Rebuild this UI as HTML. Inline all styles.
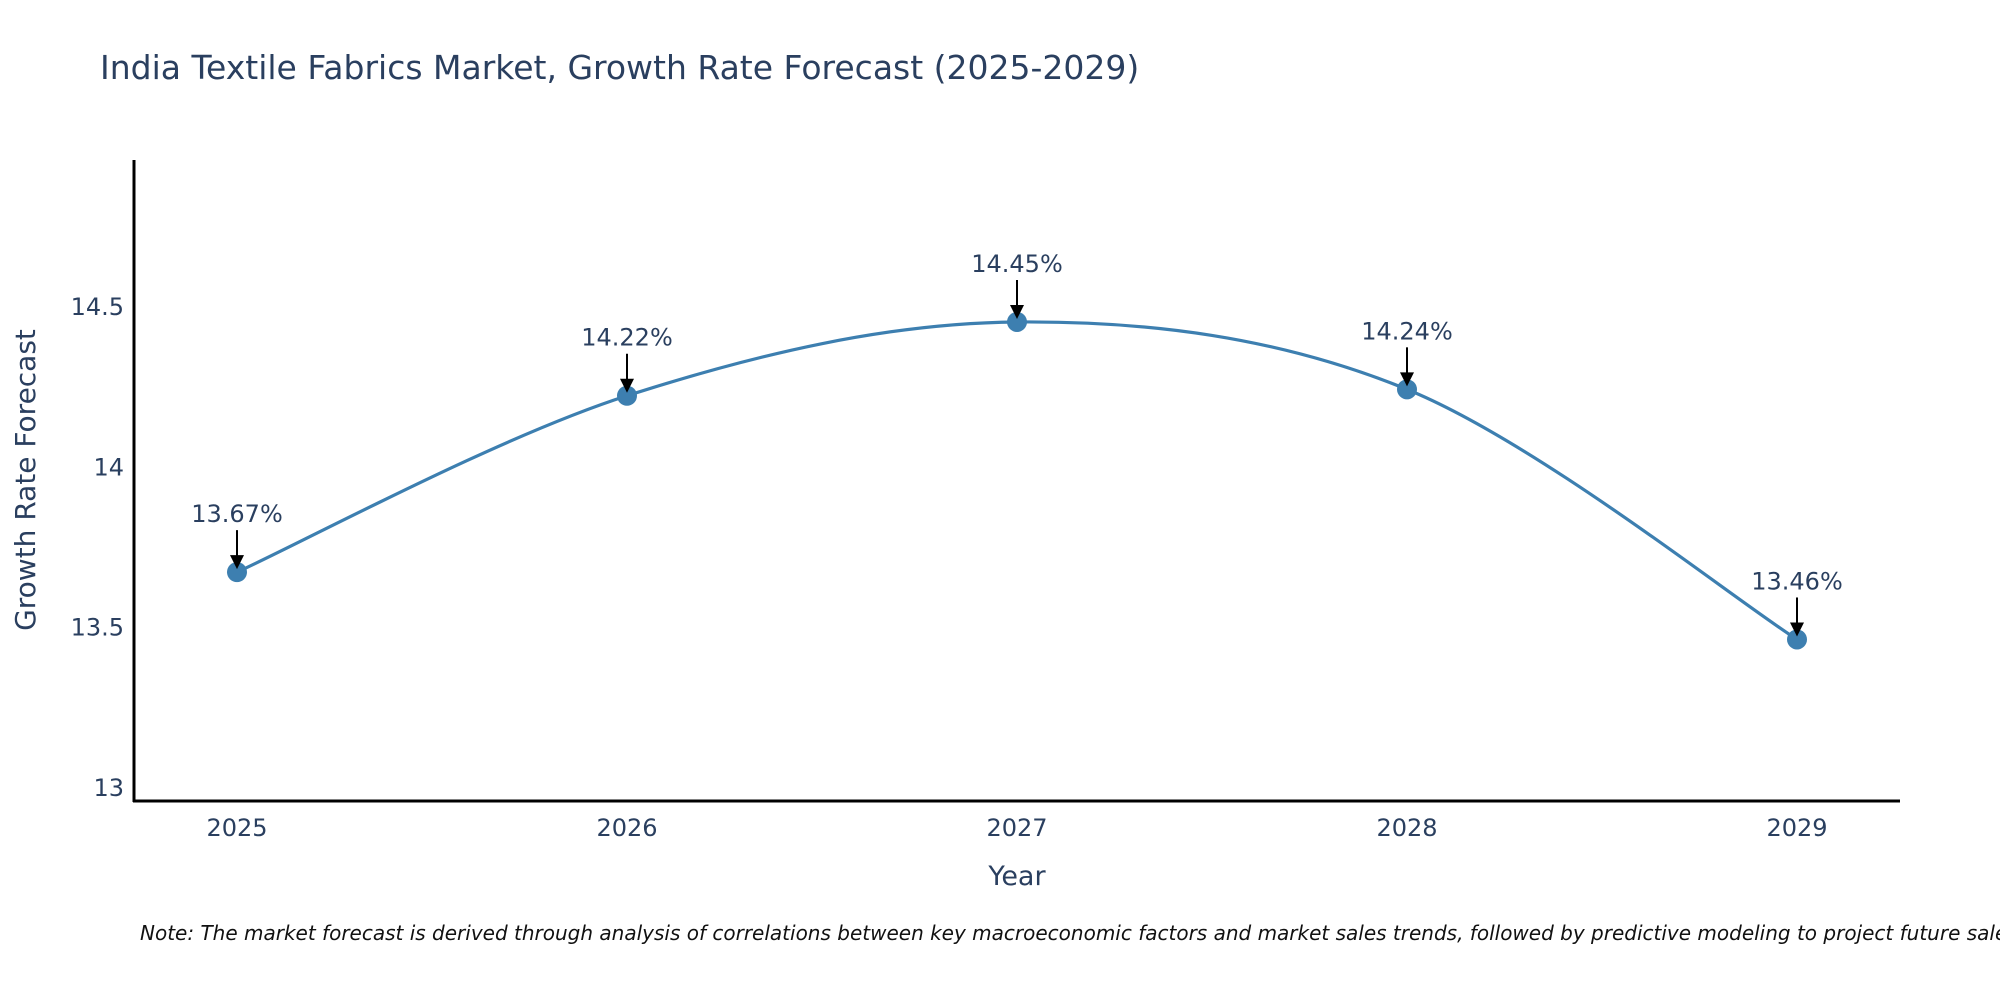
<!DOCTYPE html>
<html><head><meta charset="utf-8"><style>
html,body{margin:0;padding:0;background:#fff;overflow:hidden;}
svg text{font-family:"DejaVu Sans","Liberation Sans",sans-serif;}
</style></head><body>
<svg id="chart" width="2000" height="1000" xmlns="http://www.w3.org/2000/svg">
<rect width="2000" height="1000" fill="#fff"/>
<text x="100" y="79" font-size="33" fill="#2a3f5f">India Textile Fabrics Market, Growth Rate Forecast (2025-2029)</text>
<g id="plot"></g>
<text transform="translate(35,480) rotate(-90)" text-anchor="middle" font-size="28" fill="#2a3f5f">Growth Rate Forecast</text>
<text x="1017" y="885" text-anchor="middle" font-size="27" fill="#2a3f5f">Year</text>
<text x="140" y="940" font-size="20" font-style="italic" fill="#111">Note: The market forecast is derived through analysis of correlations between key macroeconomic factors and market sales trends, followed by predictive modeling to project future sales.</text>
</svg>
<script>
const years = [2025, 2026, 2027, 2028, 2029];
const values = [13.67, 14.22, 14.45, 14.24, 13.46];
const labels = ["13.67%", "14.22%", "14.45%", "14.24%", "13.46%"];
const yTicks = [13, 13.5, 14, 14.5];
const yTickLabels = ["13", "13.5", "14", "14.5"];

const NS = "http://www.w3.org/2000/svg";
const g = document.getElementById("plot");
function xS(v){ return 237 + (v - 2025) * 390; }
function yS(v){ return 787 - (v - 13) * 320.7; }
function mk(tag, attrs){ const e = document.createElementNS(NS, tag); for (const k in attrs) e.setAttribute(k, attrs[k]); g.appendChild(e); return e; }

let yAxis = mk("line", {x1:134, y1:160, x2:134, y2:802, stroke:"#000", "stroke-width":3});


let xAxis = mk("line", {x1:133, y1:801, x2:1900, y2:801, stroke:"#000", "stroke-width":3});



yTicks.forEach((t, i) => {
  const tx = mk("text", {x:124, y:yS(t) + 9, "text-anchor":"end", "font-size":24, fill:"#2a3f5f"});
  tx.textContent = yTickLabels[i];
  
  
});
years.forEach(yr => {
  const tx = mk("text", {x:xS(yr), y:836, "text-anchor":"middle", "font-size":24, fill:"#2a3f5f"});
  tx.textContent = String(yr);
  
  
});

const pts = years.map((yr, i) => [xS(yr), yS(values[i])]);
let d = "M" + pts[0][0] + "," + pts[0][1];
for (let i = 0; i < pts.length - 1; i++) {
  const p0 = pts[Math.max(i - 1, 0)], p1 = pts[i], p2 = pts[i + 1], p3 = pts[Math.min(i + 2, pts.length - 1)];
  const t = 1 / 6;
  const c1 = [p1[0] + (p2[0] - p0[0]) * t, p1[1] + (p2[1] - p0[1]) * t];
  const c2 = [p2[0] - (p3[0] - p1[0]) * t, p2[1] - (p3[1] - p1[1]) * t];
  d += " C" + c1 + " " + c2 + " " + p2;
}
const line = mk("path", {d:d, fill:"none", stroke:"#3d7fb0", "stroke-width":3.2});



pts.forEach((p, i) => {
  const c = mk("circle", {cx:p[0], cy:p[1], r:10, fill:"#3d7fb0"});
  
  
  const a = mk("line", {x1:p[0], y1:p[1] - 42, x2:p[0], y2:p[1] - 14, stroke:"#000", "stroke-width":2});
  
  
  const h = mk("polygon", {points:(p[0]-7)+","+(p[1]-17)+" "+(p[0]+7)+","+(p[1]-17)+" "+p[0]+","+(p[1]-3), fill:"#000"});
  
  
  const tx = mk("text", {x:p[0], y:p[1] - 50, "text-anchor":"middle", "font-size":24, fill:"#2a3f5f"});
  tx.textContent = labels[i];
  
  
});
</script>
</body></html>
